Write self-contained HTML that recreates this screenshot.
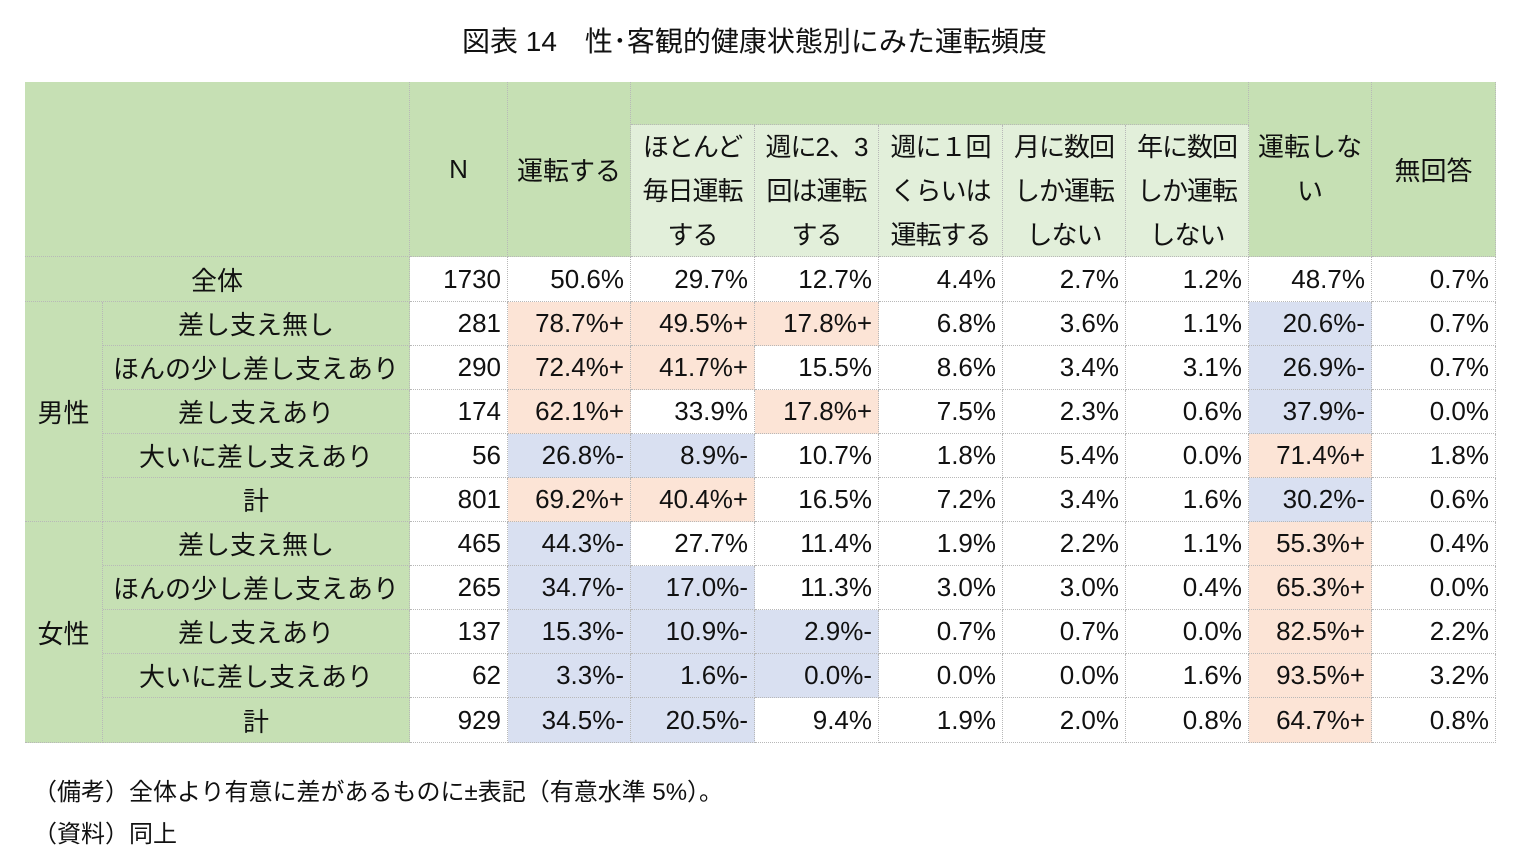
<!DOCTYPE html>
<html><head><meta charset="utf-8">
<style>
body{margin:0;width:1521px;height:868px;background:#fff;position:relative;overflow:hidden;font-family:"Liberation Sans","Noto Sans CJK JP",sans-serif;color:#111}
.c{position:absolute;box-sizing:border-box;border-right:1px dotted #b8b8b8;border-bottom:1px dotted #b8b8b8;font-size:26px;display:flex;align-items:center;white-space:nowrap}
.r{justify-content:flex-end;padding-right:6px}
.m{justify-content:center;text-align:center}
.g{background:#c6e0b4}.lg{background:#e2efda}.p{background:#fce4d6}.b{background:#d9e0f1}.w{background:#fff}
.t{position:absolute;font-size:28px}
.n{position:absolute;font-size:24px}
</style></head><body>
<div class="t" style="left:462px;top:20px">図表 14　性･客観的健康状態別にみた運転頻度</div>
<div id="tbl"></div>
<div class="n" style="left:33px;top:772px">（備考）全体より有意に差があるものに±表記（有意水準 5%）。</div>
<div class="n" style="left:33px;top:814px">（資料）同上</div>
<script>
const colX=[25,103,410,508,631,755,879,1003,1126,1249,1372,1496];
const rowY=[257,302,346,390,434,478,522,566,610,654,698,743];
const headers=["N","運転する","ほとんど<br>毎日運転<br>する","週に2、3<br>回は運転<br>する","週に１回<br>くらいは<br>運転する","月に数回<br>しか運転<br>しない","年に数回<br>しか運転<br>しない","運転しな<br>い","無回答"];
const rowLabels=["全体","差し支え無し","ほんの少し差し支えあり","差し支えあり","大いに差し支えあり","計","差し支え無し","ほんの少し差し支えあり","差し支えあり","大いに差し支えあり","計"];
const values=[
["1730","50.6%","29.7%","12.7%","4.4%","2.7%","1.2%","48.7%","0.7%"],
["281","78.7%+","49.5%+","17.8%+","6.8%","3.6%","1.1%","20.6%-","0.7%"],
["290","72.4%+","41.7%+","15.5%","8.6%","3.4%","3.1%","26.9%-","0.7%"],
["174","62.1%+","33.9%","17.8%+","7.5%","2.3%","0.6%","37.9%-","0.0%"],
["56","26.8%-","8.9%-","10.7%","1.8%","5.4%","0.0%","71.4%+","1.8%"],
["801","69.2%+","40.4%+","16.5%","7.2%","3.4%","1.6%","30.2%-","0.6%"],
["465","44.3%-","27.7%","11.4%","1.9%","2.2%","1.1%","55.3%+","0.4%"],
["265","34.7%-","17.0%-","11.3%","3.0%","3.0%","0.4%","65.3%+","0.0%"],
["137","15.3%-","10.9%-","2.9%-","0.7%","0.7%","0.0%","82.5%+","2.2%"],
["62","3.3%-","1.6%-","0.0%-","0.0%","0.0%","1.6%","93.5%+","3.2%"],
["929","34.5%-","20.5%-","9.4%","1.9%","2.0%","0.8%","64.7%+","0.8%"]];
const T=document.getElementById('tbl');
function cell(x1,y1,x2,y2,cls,html,name){
 const d=document.createElement('div');d.className='c '+cls;
 d.style.cssText=`left:${x1}px;top:${y1}px;width:${x2-x1}px;height:${y2-y1}px`;
 d.innerHTML=html;
 
 
 T.appendChild(d);return d;}
cell(25,82,410,257,'g','','header-corner');
cell(410,82,508,257,'g m','N','header-n');
cell(508,82,631,257,'g m','運転する','header-drive');
cell(631,82,1249,125,'g','','header-group');
for(let i=2;i<7;i++){const d=cell(colX[i+2],125,colX[i+3],257,'lg m',headers[i],'header-col-'+i);d.style.lineHeight='44px';d.style.whiteSpace='normal';d.style.letterSpacing='-1px';}
cell(1249,82,1372,257,'g m','運転しな<br>い','header-no-drive').style.lineHeight='44px';
cell(1372,82,1496,257,'g m','無回答','header-no-answer');
cell(25,257,410,302,'g m','全体','row-label-total');
cell(25,302,103,522,'g m','男性','group-male');
cell(25,522,103,743,'g m','女性','group-female');
for(let r=0;r<11;r++){
 if(r>0)cell(103,rowY[r],410,rowY[r+1],'g m',rowLabels[r],'row-label-'+r);
 for(let c=0;c<9;c++){
  const v=values[r][c];let cls='w';
  if(c>0&&v.endsWith('+'))cls='p';else if(c>0&&v.endsWith('-'))cls='b';
  cell(colX[c+2],rowY[r],colX[c+3],rowY[r+1],cls+' r',v,'cell-r'+r+'-c'+c);
 }
}
</script>
</body></html>
